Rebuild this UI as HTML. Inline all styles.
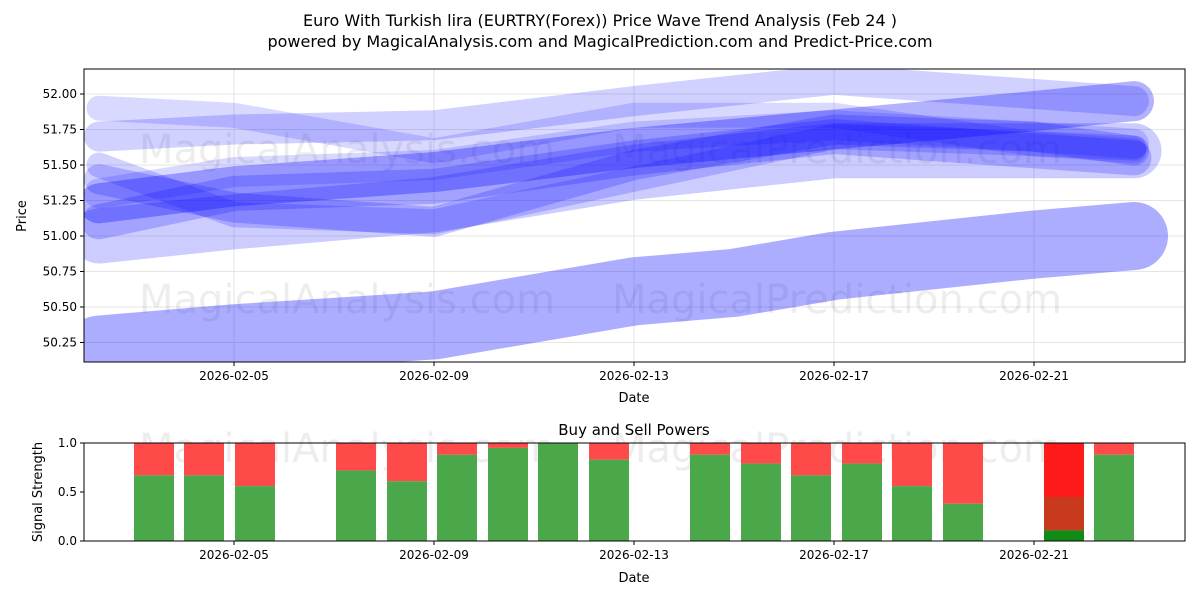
<!DOCTYPE html>
<html><head><meta charset="utf-8"><style>
body{margin:0;background:#fff;font-family:"Liberation Sans","DejaVu Sans",sans-serif}
svg text{font-family:"DejaVu Sans","Liberation Sans",sans-serif}
</style></head><body>
<svg id="c" width="1200" height="600" xmlns="http://www.w3.org/2000/svg">
<text x="600" y="26" text-anchor="middle" font-size="16">Euro With Turkish lira (EURTRY(Forex)) Price Wave Trend Analysis (Feb 24 )</text>
<text x="600" y="47" text-anchor="middle" font-size="16">powered by MagicalAnalysis.com and MagicalPrediction.com and Predict-Price.com</text>
<g id="topg"></g><g id="botg"></g>
</svg>
<script>
const waveDays=[2.3,5,9,13,17,21,23];
const waveMain=[51.23,51.35,51.45,51.62,51.75,51.88,51.95];
const waveA=[51.7,51.75,51.78,51.95,52.1,52.0,51.95];
const waveB=[51.4,51.2,51.1,51.5,51.75,51.7,51.6];
const waveC=[51.9,51.85,51.6,51.85,51.85,51.65,51.6];
const waveD=[51.1,51.3,51.35,51.55,51.7,51.6,51.55];
const waveE=[51.5,51.15,51.1,51.4,51.7,51.65,51.62];
const waveF=[51.3,51.45,51.5,51.7,51.78,51.7,51.65];
const waveG=[51.0,51.1,51.22,51.45,51.6,51.6,51.6];
const lowDays=[2.3,5,9,13,15,17,21,23];
const waveLow=[50.2,50.28,50.37,50.61,50.67,50.79,50.94,51.0];
const yTicks=[50.25,50.5,50.75,51.0,51.25,51.5,51.75,52.0];
const xTickDays=[5,9,13,17,21];
const xTickLabels=["2026-02-05","2026-02-09","2026-02-13","2026-02-17","2026-02-21"];
const barDays=[3.4,4.4,5.42,7.44,8.46,9.46,10.48,11.48,12.5,14.52,15.54,16.54,17.56,18.56,19.58,21.6,22.6];
const buyVals=[0.67,0.67,0.56,0.72,0.61,0.88,0.95,1.0,0.83,0.88,0.79,0.67,0.79,0.56,0.38,0.11,0.88];
const ns="http://www.w3.org/2000/svg";
function mk(p,t,a,txt){const e=document.createElementNS(ns,t);for(const k in a)e.setAttribute(k,a[k]);if(txt!=null)e.textContent=txt;p.appendChild(e);return e;}
const X=d=>34+50*(d-1);
const Y=v=>94+(52-v)*142;
const Yb=v=>541-v*98;
const topG=document.getElementById('topg'),botG=document.getElementById('botg');
const L=84,R=1185,T=69,B=362;
for(const v of yTicks){const y=Y(v);mk(topG,'line',{x1:L,x2:R,y1:y,y2:y,stroke:'#ddd','stroke-width':0.8});mk(topG,'line',{x1:L-4,x2:L,y1:y,y2:y,stroke:'#000'});
const t=mk(topG,'text',{x:L-7,y:y+4,'text-anchor':'end','font-size':12},v.toFixed(2));

}
xTickDays.forEach((d,i)=>{const x=X(d);mk(topG,'line',{x1:x,x2:x,y1:T,y2:B,stroke:'#ddd','stroke-width':0.8});mk(topG,'line',{x1:x,x2:x,y1:B,y2:B+4,stroke:'#000'});
const t=mk(topG,'text',{x:x,y:B+18,'text-anchor':'middle','font-size':12},xTickLabels[i]);

});
const wm=[["MagicalAnalysis.com",347,163],["MagicalPrediction.com",837,163],["MagicalAnalysis.com",347,313],["MagicalPrediction.com",837,313]];
for(const w of wm){const t=mk(topG,'text',{x:w[1],y:w[2],'text-anchor':'middle','font-size':40,fill:'rgba(0,0,0,0.07)'},w[0]);

}
const clip=mk(topG,'clipPath',{id:'cp'});mk(clip,'rect',{x:L,y:T,width:R-L,height:B-T});
const g=mk(topG,'g',{'clip-path':'url(#cp)'});
function wave(days,vals,w,op,name){const pts=days.map((d,i)=>X(d)+','+Y(vals[i])).join(' ');
const p=mk(g,'polyline',{points:pts,fill:'none',stroke:'rgb(0,0,255)','stroke-opacity':op,'stroke-width':w,'stroke-linejoin':'round','stroke-linecap':'round'});

}
wave(lowDays,waveLow,68,0.32,'wave-lower');
wave(waveDays,waveG,55,0.2,'wave-g');
wave(waveDays,waveA,30,0.18,'wave-a');wave(waveDays,waveB,30,0.2,'wave-b');wave(waveDays,waveC,25,0.15,'wave-c');wave(waveDays,waveD,35,0.2,'wave-d');wave(waveDays,waveE,25,0.18,'wave-e');wave(waveDays,waveF,30,0.15,'wave-f');
wave(waveDays,waveMain,40,0.3,'wave-main');
mk(topG,'rect',{x:L,y:T,width:R-L,height:B-T,fill:'none',stroke:'#000','stroke-width':1});
let t=mk(topG,'text',{x:634,y:402,'text-anchor':'middle','font-size':13},'Date');


t=mk(topG,'text',{x:26,y:216,'text-anchor':'middle','font-size':13,transform:'rotate(-90 26 216)'},'Price');


const bT=443,bB=541;
t=mk(botG,'text',{x:634,y:435,'text-anchor':'middle','font-size':15},'Buy and Sell Powers');


for(const w of [["MagicalAnalysis.com",347],["MagicalPrediction.com",837]]){const e=mk(botG,'text',{x:w[1],y:462,'text-anchor':'middle','font-size':40,fill:'rgba(0,0,0,0.07)'},w[0]);

}
barDays.forEach((d,i)=>{const x=X(d)-20,v=buyVals[i];const special=i===15;
const r=mk(botG,'rect',{x:x,y:bT,width:40,height:Yb(v)-bT,fill:special?'#ff1a1a':'#ff4a4a'});


if(special){const m=mk(botG,'rect',{x:x,y:Yb(0.45),width:40,height:Yb(v)-Yb(0.45),fill:'#c8391e'});

}
const b=mk(botG,'rect',{x:x,y:Yb(v),width:40,height:bB-Yb(v),fill:special?'#138a13':'#4aa84a'});

});
for(const v of [0,0.5,1]){const y=Yb(v);mk(botG,'line',{x1:L-4,x2:L,y1:y,y2:y,stroke:'#000'});
const e=mk(botG,'text',{x:L-7,y:y+4,'text-anchor':'end','font-size':12},v.toFixed(1));

}
xTickDays.forEach((d,i)=>{const x=X(d);mk(botG,'line',{x1:x,x2:x,y1:bB,y2:bB+4,stroke:'#000'});
const e=mk(botG,'text',{x:x,y:bB+18,'text-anchor':'middle','font-size':12},xTickLabels[i]);

});
mk(botG,'rect',{x:L,y:bT,width:R-L,height:bB-bT,fill:'none',stroke:'#000','stroke-width':1});
t=mk(botG,'text',{x:634,y:582,'text-anchor':'middle','font-size':13},'Date');


t=mk(botG,'text',{x:42,y:492,'text-anchor':'middle','font-size':13,transform:'rotate(-90 42 492)'},'Signal Strength');


</script>
</body></html>
